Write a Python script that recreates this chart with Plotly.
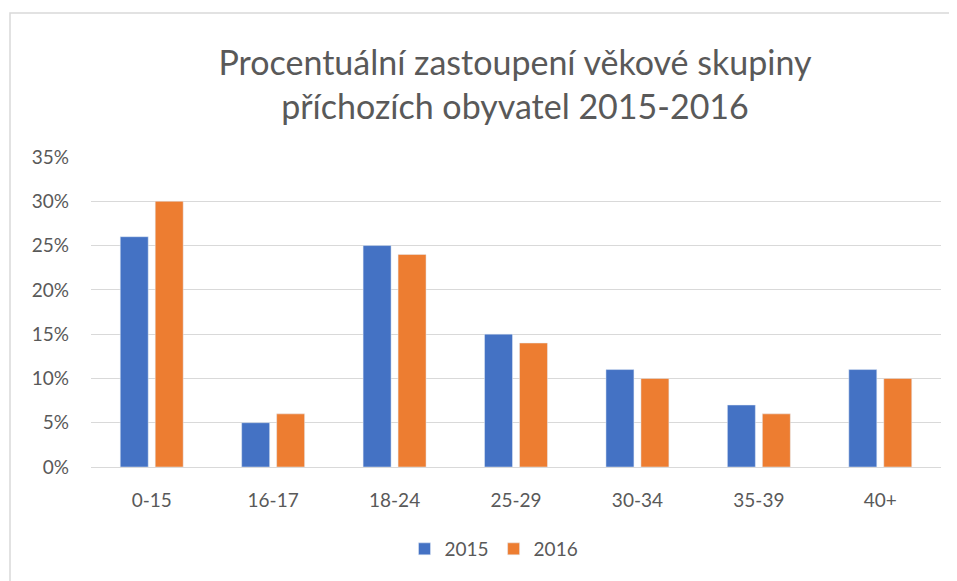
import plotly.graph_objects as go

categories = ["0-15", "16-17", "18-24", "25-29", "30-34", "35-39", "40+"]
values_2015 = [0.26, 0.05, 0.25, 0.15, 0.11, 0.07, 0.11]
values_2016 = [0.30, 0.06, 0.24, 0.14, 0.10, 0.06, 0.10]
tick_vals = [0, 0.05, 0.10, 0.15, 0.20, 0.25, 0.30, 0.35]
tick_text = ["0%", "5%", "10%", "15%", "20%", "25%", "30%", "35%"]

OFF = 8  # page body margin
W, H = 957 - OFF, 581 - OFF
L, T = 91 - OFF, 157 - OFF
R = 957 - 941
pw = W - L - R
ph = 467 - 157
B = H - T - ph

font_fam = "Lato, 'Open Sans', sans-serif"
txt = "#595959"

fig = go.Figure()
fig.add_trace(go.Bar(name="2015", x=categories, y=values_2015, marker_color="#4472C4"))
fig.add_trace(go.Bar(name="2016", x=categories, y=values_2016, marker_color="#ED7D31"))

fig.update_layout(
    width=W, height=H,
    margin=dict(l=L, r=R, t=T, b=B),
    paper_bgcolor="white", plot_bgcolor="white",
    barmode="group", bargap=0.424, bargroupgap=0.2,
    title=dict(
        text="Procentuální zastoupení věkové skupiny<br>příchozích obyvatel 2015-2016",
        x=(515 - OFF - L) / pw, xanchor="center", xref="paper",
        y=1 - (75 - OFF) / H, yanchor="top",
        font=dict(family=font_fam, size=34, color=txt),
    ),
    font=dict(family=font_fam, size=19, color=txt),
    legend=dict(orientation="h", x=(494 - OFF - L) / pw, xanchor="center", xref="paper",
                y=-(549 - 467) / ph, yanchor="middle",
                font=dict(size=19, color=txt), traceorder="normal"),
    xaxis=dict(showgrid=False, showline=False, ticks="", ticklabelstandoff=20,
               tickfont=dict(size=19, color=txt)),
    yaxis=dict(range=[0, 0.35], tickvals=tick_vals, ticktext=tick_text,
               showgrid=True, gridcolor="#D9D9D9", gridwidth=1,
               zeroline=True, zerolinecolor="#D9D9D9", zerolinewidth=1,
               showline=False, ticks="", ticklabelstandoff=21,
               tickfont=dict(size=19, color=txt)),
    shapes=[dict(type="rect", xref="paper", yref="paper",
                 x0=(10 - OFF - L) / pw, x1=(W + 20 - L) / pw,
                 y0=-(H + 20 - T - ph) / ph, y1=1 + (T - (13 - OFF)) / ph,
                 line=dict(color="#D9D9D9", width=1.5), fillcolor="rgba(0,0,0,0)", layer="below")],
)

fig.write_html("out.html")
